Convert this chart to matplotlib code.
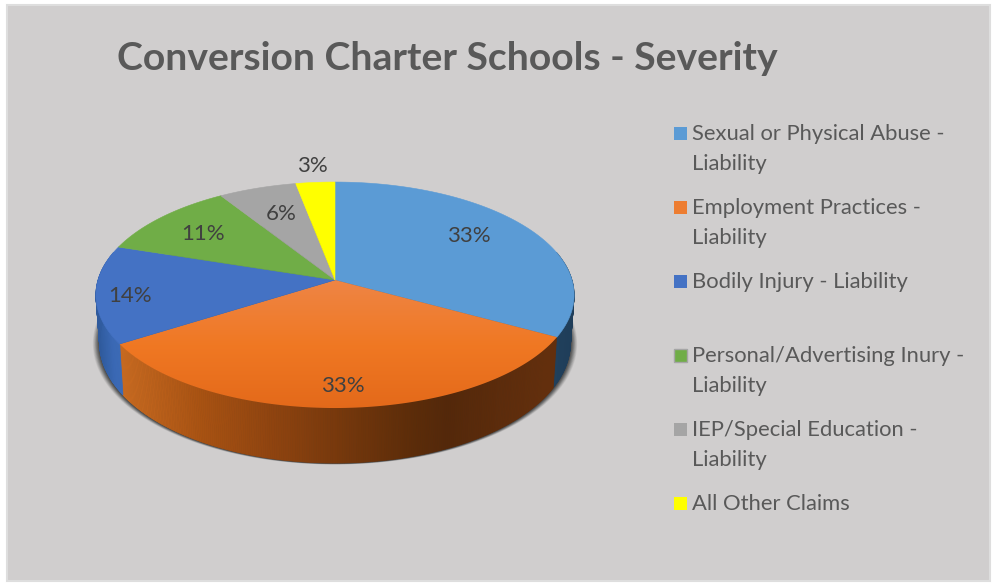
import numpy as np
import matplotlib
matplotlib.use("Agg")
import matplotlib.pyplot as plt
from matplotlib.patches import Polygon, Rectangle
from matplotlib.colors import to_rgb, LinearSegmentedColormap

title = "Conversion Charter Schools - Severity"
categories = ["Sexual or Physical Abuse -\nLiability",
              "Employment Practices -\nLiability",
              "Bodily Injury - Liability",
              "Personal/Advertising Inury -\nLiability",
              "IEP/Special Education -\nLiability",
              "All Other Claims"]
values = [33, 33, 14, 11, 6, 3]
colors = ["#5B9BD5", "#ED7D31", "#4472C4", "#70AD47", "#A5A5A5", "#FFFF00"]

BG = "#D0CECE"
plt.rcParams["font.family"] = ["Lato", "DejaVu Sans"]
fig = plt.figure(figsize=(9.93, 5.85), dpi=100, facecolor="white")
ax = fig.add_axes([0, 0, 1, 1])
ax.set_xlim(0, 993)
ax.set_ylim(585, 0)
ax.axis("off")
ax.add_patch(Rectangle((7, 5), 983, 576, fc=BG, ec="#DEDEDE", lw=1.5, zorder=0))

# perspective projection of the pie disc
CX, CY, R, RY, K = 335, 280, 237, 111, 0.133
def top_pt(theta):
    d = np.cos(theta)
    s = 1 / (1 + K * d)
    return CX + R * np.sin(theta) * s, CY - RY * d * s
def bot_pt(theta):
    x, y = top_pt(theta)
    return CX + (x - CX) * 0.985, y + 46 - 9 * np.cos(theta)

edges = np.radians(np.cumsum([0] + values) / sum(values) * 360)
full = np.linspace(0, 2 * np.pi, 361)

# soft shadow under the pie
bx, by = bot_pt(full)
for grow, a in zip(np.linspace(1.028, 1.0, 10), np.linspace(0.07, 0.22, 10)):
    ax.fill(CX + (bx - CX) * grow, by + 0.5 + (grow - 1) * 35, color="#202020", alpha=a, lw=0, zorder=1)

# shaded side wall
side_stops = {
    0: [(540, "#23435F"), (580, "#1E3C58")],
    1: [(122, "#C86A20"), (200, "#A85212"), (280, "#8C420F"), (413, "#5C2C09"),
        (447, "#54280A"), (547, "#642F0D")],
    2: [(96, "#2F5A9C"), (112, "#3A69B5"), (130, "#3F6FBC")],
}
def shade(idx, x):
    st = side_stops[idx]
    xs = [p[0] for p in st]
    rgb = np.array([to_rgb(p[1]) for p in st])
    return tuple(np.interp(x, xs, rgb[:, c]) for c in range(3))
ths = np.radians(np.arange(75, 285.01, 0.5))
for a, b in zip(ths[:-1], ths[1:]):
    m = (a + b) / 2
    idx = int(np.searchsorted(edges, m) - 1)
    x0, y0 = top_pt(a); x1, y1 = top_pt(b)
    x2, y2 = bot_pt(b); x3, y3 = bot_pt(a)
    c = shade(idx, (x0 + x1) / 2)
    ax.add_patch(Polygon([(x0, y0), (x1, y1), (x2, y2), (x3, y3)], fc=c, ec=c, lw=0.5, zorder=2))

# top faces
for i, (a, b) in enumerate(zip(edges[:-1], edges[1:])):
    t = np.linspace(a, b, 200)
    px, py = top_pt(t)
    verts = np.column_stack([np.r_[CX, px], np.r_[CY, py]])
    if i == 1:
        cmap = LinearSegmentedColormap.from_list("o", ["#EE8545", "#F07823", "#E3691A"])
        im = ax.imshow(np.linspace(0, 1, 256)[:, None], cmap=cmap, aspect="auto",
                       extent=(90, 580, 410, 280), zorder=3)
        poly = Polygon(verts, fc="none", ec="none", transform=ax.transData)
        ax.add_patch(poly)
        im.set_clip_path(poly)
    else:
        ax.add_patch(Polygon(verts, fc=colors[i], ec=colors[i], lw=0.4, zorder=3))
ax.set_xlim(0, 993)
ax.set_ylim(585, 0)

# percentage labels
label_xy = [(469, 235.5), (343, 385.5), (130, 296.5), (203, 233.5), (281, 213.5), (312, 165.5)]
for v, (x, y) in zip(values, label_xy):
    ax.text(x, y, f"{v}%", ha="center", va="center", fontsize=16, color="#404040", zorder=5)

# title
ax.text(117, 58.5, title, ha="left", va="center", fontsize=28.2, fontweight="bold", color="#595959", zorder=5)

# legend
for i, (name, c) in enumerate(zip(categories, colors)):
    y = 133 + 74 * i
    ec = "#A5A5A5" if i == 3 else c
    ax.add_patch(Rectangle((673.5, y - 6.5), 13, 13, fc=c, ec=ec, lw=1 if i == 3 else 0, zorder=5))
    ax.text(692, y - 9, name, ha="left", va="top", fontsize=15.8, color="#595959",
            linespacing=1.6, zorder=5)

fig.savefig("out.png", dpi=100, facecolor="white")
